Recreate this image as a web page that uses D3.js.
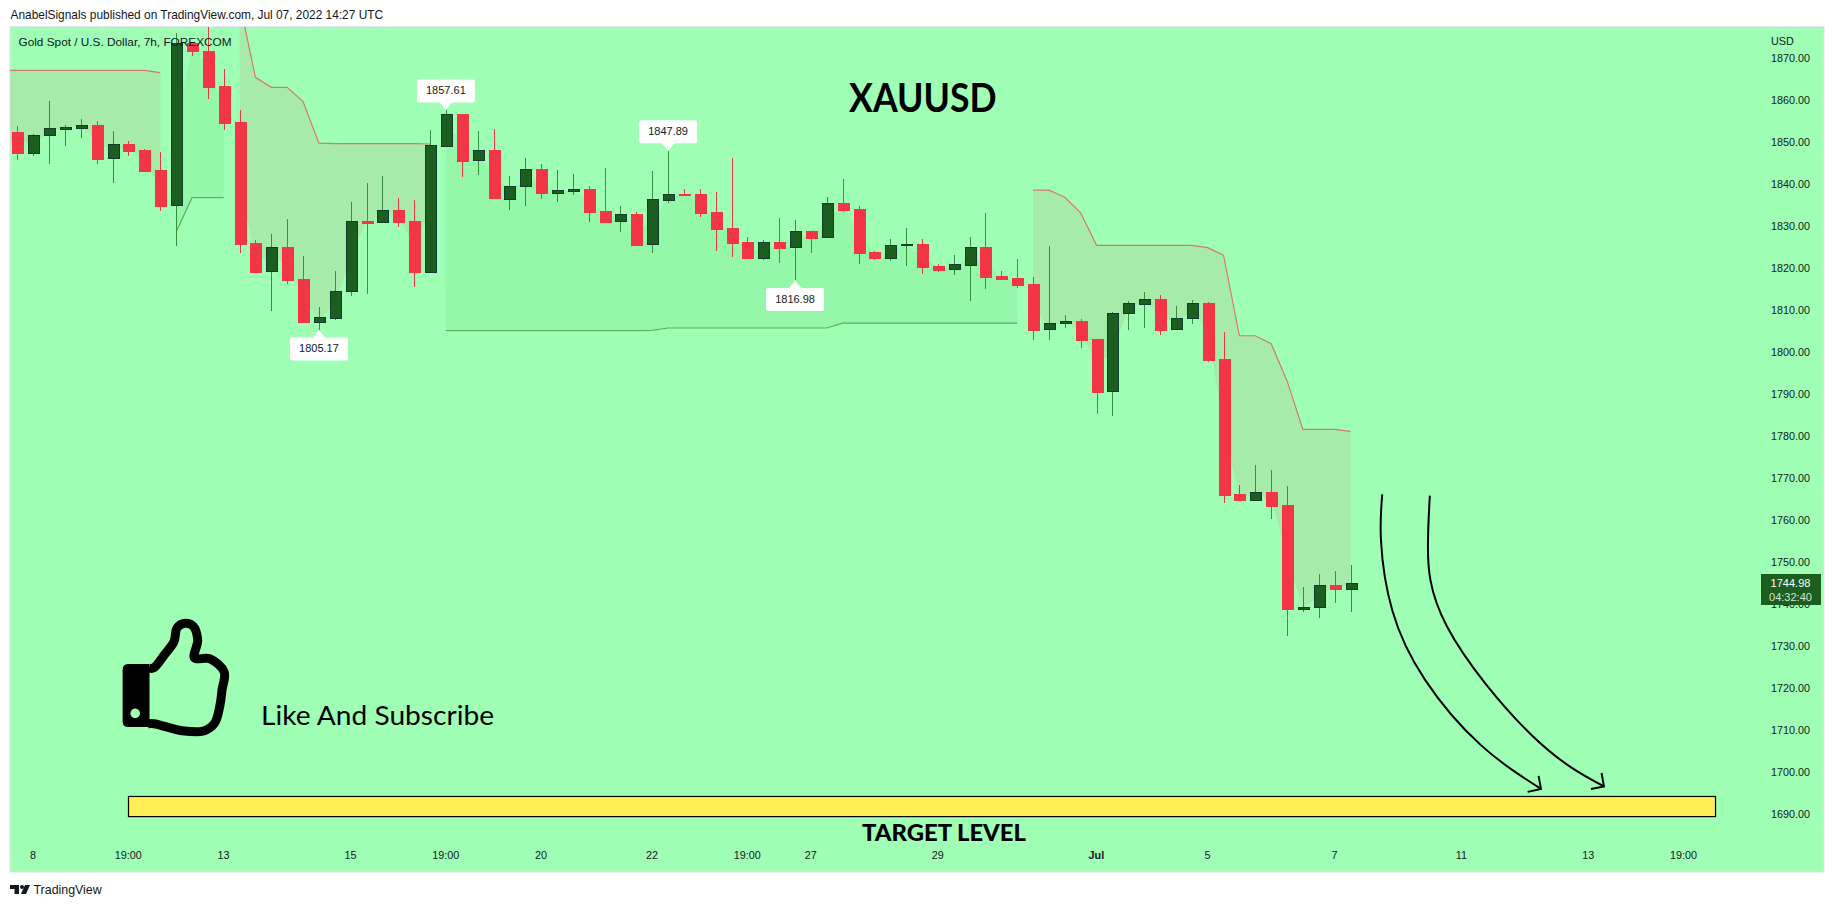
<!DOCTYPE html>
<html><head><meta charset="utf-8">
<style>html,body{margin:0;padding:0;background:#fff;overflow:hidden}svg{display:block}
text{font-family:"Liberation Sans",Arial,sans-serif;fill:#131722}</style>
<script src="https://cdn.jsdelivr.net/npm/d3@7/dist/d3.min.js"></script></head><body>
<script>
const openP=[1852.4,1847.4,1851.5,1853.2,1853.4,1854.0,1846.0,1849.5,1848.1,1843.3,1834.8,1873.5,1871.7,1863.3,1854.7,1825.9,1819.1,1825.0,1817.3,1807.1,1808.0,1814.3,1831.2,1830.8,1833.8,1831.2,1819.0,1849.0,1856.6,1845.5,1848.1,1836.6,1839.5,1843.5,1837.8,1838.3,1838.8,1833.5,1831.0,1832.8,1825.5,1836.2,1837.7,1837.6,1833.3,1829.5,1826.1,1822.4,1826.1,1824.8,1828.8,1827.2,1835.4,1834.0,1823.8,1822.4,1825.3,1825.7,1820.4,1819.6,1820.7,1825.0,1818.0,1817.6,1816.1,1805.3,1806.7,1807.3,1803.0,1790.5,1809.1,1811.4,1812.6,1805.3,1807.9,1811.6,1798.3,1766.1,1764.7,1766.6,1763.5,1738.7,1739.0,1744.4,1743.5];
const highP=[1853.8,1851.8,1859.8,1854.0,1855.5,1854.9,1852.6,1850.2,1848.2,1847.6,1875.9,1873.5,1880.0,1867.4,1857.6,1826.6,1828.1,1831.6,1822.8,1810.7,1819.2,1835.7,1840.2,1841.9,1836.6,1836.2,1852.8,1857.61,1856.6,1852.6,1853.1,1841.9,1846.2,1844.7,1843.3,1842.4,1839.5,1843.8,1834.7,1833.2,1843.1,1847.89,1838.8,1838.8,1838.1,1846.2,1827.3,1826.6,1831.9,1831.4,1828.8,1836.9,1841.2,1834.7,1824.0,1826.9,1829.5,1826.9,1820.9,1823.0,1827.3,1833.1,1819.2,1822.1,1817.8,1825.2,1808.8,1807.8,1803.0,1809.5,1812.1,1814.2,1813.5,1810.9,1812.3,1811.8,1804.7,1768.2,1773.0,1771.8,1768.0,1743.9,1747.0,1747.7,1749.2];
const lowP=[1845.7,1846.7,1844.7,1849.0,1850.9,1844.7,1840.3,1846.6,1843.1,1833.5,1825.2,1870.5,1860.2,1852.8,1823.5,1818.8,1809.7,1816.1,1807.1,1805.17,1807.6,1813.3,1813.8,1830.8,1829.7,1815.4,1819.0,1849.0,1841.6,1842.1,1836.6,1833.8,1834.7,1836.4,1835.7,1837.4,1830.9,1830.9,1828.6,1825.4,1823.6,1835.5,1837.4,1832.2,1824.0,1822.6,1822.3,1821.9,1821.1,1816.98,1823.5,1827.2,1833.3,1820.9,1821.9,1821.6,1820.4,1818.5,1819.0,1818.3,1812.1,1814.9,1817.3,1815.2,1802.8,1802.8,1805.7,1800.9,1785.2,1784.7,1805.2,1805.7,1804.0,1805.3,1806.6,1797.5,1764.0,1764.7,1764.7,1760.1,1732.2,1738.0,1736.5,1740.1,1738.0];
const closeP=[1847.4,1851.6,1853.2,1853.6,1854.0,1845.9,1849.4,1847.8,1843.1,1834.7,1873.5,1871.5,1863.1,1854.5,1825.7,1819.0,1824.9,1817.1,1807.1,1808.2,1814.4,1831.1,1830.8,1833.7,1830.9,1819.0,1849.2,1856.6,1845.5,1848.0,1836.6,1839.6,1843.5,1837.8,1838.5,1838.7,1833.3,1830.9,1832.7,1825.4,1836.3,1837.7,1837.4,1833.1,1829.2,1825.9,1822.3,1826.1,1824.7,1828.7,1827.1,1835.4,1833.8,1823.5,1822.3,1825.4,1825.6,1820.2,1819.5,1820.8,1824.9,1817.8,1817.3,1815.9,1805.2,1806.8,1807.2,1802.8,1790.4,1809.2,1811.5,1812.5,1805.2,1808.0,1811.5,1798.0,1765.8,1764.7,1766.5,1763.2,1738.7,1739.2,1744.3,1743.4,1744.98];

// trailing-stop line of the indicator, one run per trend: first bar index + values
const stopRuns=[
 {dir:"down",first:-1,values:[1867.06,1867.06,1867.06,1867.06,1867.06,1867.06,1867.06,1867.06,1867.06,1867.06,1866.5]},
 {dir:"up",first:10,values:[1828.5,1836.7,1836.7,1836.7]},
 {dir:"down",first:14,values:[1883.3,1865.4,1863.0,1863.0,1859.6,1849.7,1849.6,1849.6,1849.6,1849.6,1849.6,1849.6,1849.5]},
 {dir:"up",first:27,values:[1805.0,1805.0,1805.0,1805.0,1805.0,1805.0,1805.0,1805.0,1805.0,1805.0,1805.0,1805.0,1805.0,1805.1,1805.65,1805.65,1805.65,1805.65,1805.65,1805.65,1805.65,1805.65,1805.65,1805.65,1805.65,1806.8,1806.8,1806.8,1806.8,1806.8,1806.8,1806.8,1806.8,1806.8,1806.8,1806.8,1806.8]},
 {dir:"down",first:64,values:[1838.5,1838.5,1836.8,1833.1,1825.35,1825.35,1825.35,1825.35,1825.35,1825.35,1825.35,1824.8,1823.0,1803.8,1803.8,1801.9,1793.1,1781.5,1781.5,1781.5,1781.0]}
];
const priceTicks=d3.range(1690,1871,10);
const timeTickBars=[1,7,13,21,27,33,40,46,50,58,68,75,83,91,99,105];
const timeTickLabels=["8","19:00","13","15","19:00","20","22","19:00","27","29","Jul","5","7","11","13","19:00"];
const markedHighs=[27,41], markedLows=[19,49];
const targetBars=[7,107], targetPrices=[1694.0,1689.2];
const arrowA=[[86.0,1766.0],[85.92,1755],[86.63,1738.4],[88.7,1721.8],[92.2,1706.3],[96.0,1695.8]];
const arrowAHead=[[95.85,1698.9],[96.0,1695.8],[95.16,1695.1]];
const arrowB=[[89.0,1765.7],[88.88,1754],[90.08,1734.5],[95.42,1708.6],[99.97,1696.4]];
const arrowBHead=[[99.82,1699.6],[99.97,1696.4],[99.15,1695.8]];
const thumbOutline=[[149,668],[153.4,668],[165,654],[174,641.7],[177,628],[184,623.5],[193,626],[197.7,640],[194.5,658],[209.6,658.7],[224.2,672],[222,690],[220,705],[214.7,723],[203.6,731],[181.9,730.7],[154,723.7],[148,723.7]];

const W=1834,H=907;
const pane={l:10,t:27,r:1824,b:872};
const x=d3.scaleLinear().domain([0,84]).range([17.4,1350.5]);
const y=d3.scaleLinear().domain([1800,1700]).range([351.7,771.3]);
const UP="#1b5e20",UPB="#0f3d2e",UPW="#388e3c",DN="#f23645";

const svg=d3.select("body").append("svg").attr("width",W).attr("height",H);
svg.append("rect").attr("x",pane.l).attr("y",pane.t-.5).attr("width",pane.r-pane.l).attr("height",pane.b-pane.t+.5)
  .attr("fill","#9effb5").attr("stroke","#e0e3eb");
svg.append("defs").append("clipPath").attr("id","pane").append("rect")
  .attr("x",pane.l).attr("y",pane.t).attr("width",pane.r-pane.l).attr("height",pane.b-pane.t);

// axes
const yAxis=d3.axisRight(y).tickValues(priceTicks).tickSize(0).tickPadding(0).tickFormat(d3.format(".2f"));
const ya=svg.append("g").attr("transform","translate(1771,0.4)").call(yAxis);
ya.select(".domain").remove();
ya.selectAll("text").style("font-size","10.8px").style("fill","#131722");
const xAxis=d3.axisBottom(x).tickValues(timeTickBars).tickSize(0).tickPadding(0).tickFormat((d,i)=>timeTickLabels[i]);
const xa=svg.append("g").attr("transform","translate(-0.7,851)").call(xAxis);
xa.select(".domain").remove();
xa.selectAll("text").style("font-size","10.8px").style("fill","#131722")
  .style("font-weight",(d,i)=>timeTickLabels[i]==="Jul"?700:400);

const g=svg.append("g").attr("clip-path","url(#pane)");
// indicator fills and lines
const mid=i=>(openP[Math.max(i,0)]+closeP[Math.max(i,0)])/2;
stopRuns.forEach(r=>{
  const col=r.dir==="up"?"#4caf50":"#f23645";
  const pts=r.values.map((v,k)=>({i:r.first+k,v}));
  g.append("path").attr("fill",col).attr("opacity",.1)
    .attr("d",d3.area().x(p=>x(Math.max(p.i,-0.46))).y0(p=>y(p.v)).y1(p=>y(mid(p.i)))(pts));
  g.append("path").attr("fill","none").attr("stroke",col).attr("stroke-opacity",r.dir==="up"?.9:.65).attr("stroke-width",1.2)
    .attr("d",d3.line().x(p=>x(p.i)).y(p=>y(p.v))(pts));
});
// candles
const bw=11;
const idx=d3.range(openP.length);
g.append("g").attr("shape-rendering","crispEdges").selectAll("line").data(idx).join("line")
  .attr("x1",i=>Math.round(x(i))+.5).attr("x2",i=>Math.round(x(i))+.5)
  .attr("y1",i=>y(highP[i])).attr("y2",i=>y(lowP[i]))
  .attr("stroke",i=>closeP[i]>=openP[i]?UPW:DN).attr("stroke-width",1);
g.append("g").attr("shape-rendering","crispEdges").selectAll("rect").data(idx).join("rect")
  .attr("x",i=>Math.round(x(i))-5).attr("width",bw)
  .attr("y",i=>Math.round(y(Math.max(openP[i],closeP[i]))))
  .attr("height",i=>Math.max(1,Math.round(y(Math.min(openP[i],closeP[i]))-y(Math.max(openP[i],closeP[i])))))
  .attr("fill",i=>closeP[i]>=openP[i]?UP:DN)
  .attr("stroke",i=>closeP[i]>=openP[i]?UPB:DN).attr("stroke-width",1);

// target box
svg.append("rect").attr("x",x(targetBars[0])).attr("width",x(targetBars[1])-x(targetBars[0]))
  .attr("y",y(targetPrices[0])).attr("height",y(targetPrices[1])-y(targetPrices[0]))
  .attr("fill","#ffee58").attr("stroke","#000").attr("stroke-width",1.2);

// arrows
const curve=d3.line().x(d=>x(d[0])).y(d=>y(d[1])).curve(d3.curveNatural);
const poly=d3.line().x(d=>x(d[0])).y(d=>y(d[1]));
[arrowA,arrowB].forEach(a=>svg.append("path").attr("fill","none").attr("stroke","#000").attr("stroke-width",2).attr("d",curve(a)));
[arrowAHead,arrowBHead].forEach(a=>svg.append("path").attr("fill","none").attr("stroke","#000").attr("stroke-width",2).attr("d",poly(a)));

// high / low flags
function flag(i,price,isHigh){
  const cx=x(i),tip=y(price),dir=isHigh?-1:1;
  const gg=svg.append("g");
  const h=23,w=58,off=7.5;
  const y0=isHigh?tip-off-h:tip+off;
  gg.append("path").attr("fill","#fff").attr("d",`M${cx},${tip}L${cx-7},${tip+dir*(off+1)}L${cx+7},${tip+dir*(off+1)}Z`);
  gg.append("rect").attr("x",cx-w/2).attr("y",y0).attr("width",w).attr("height",h).attr("rx",2).attr("fill","#fff");
  gg.append("text").attr("x",cx).attr("y",y0+h/2+.5).attr("text-anchor","middle").attr("dominant-baseline","middle")
    .style("font-size","11px").text(d3.format(".2f")(price));
}
markedHighs.forEach(i=>flag(i,highP[i],true));
markedLows.forEach(i=>flag(i,lowP[i],false));

// price badge
svg.append("rect").attr("x",1761).attr("y",574).attr("width",60).attr("height",31).attr("fill",UP);
svg.append("text").attr("x",1790.5).attr("y",586.5).attr("text-anchor","middle").style("font-size","11px").style("fill","#fff").text(d3.format(".2f")(closeP[84]));
svg.append("text").attr("x",1790.5).attr("y",600.5).attr("text-anchor","middle").style("font-size","11px").style("fill","#d5e3d6").text("04:32:40");

// texts
svg.append("text").attr("x",1771).attr("y",44.5).style("font-size","10.8px").text("USD");
svg.append("text").attr("x",10.5).attr("y",19).style("font-size","11.9px").text("AnabelSignals published on TradingView.com, Jul 07, 2022 14:27 UTC");
svg.append("text").attr("x",18.5).attr("y",45.5).style("font-size","11.8px").text("Gold Spot / U.S. Dollar, 7h, FOREXCOM");
svg.append("text").attr("x",849).attr("y",111.5).attr("textLength",147.6).attr("lengthAdjust","spacingAndGlyphs").style("font-family","Lato").style("font-weight",700).style("font-size","39.5px").style("fill","#000").text("XAUUSD");
svg.append("text").attr("x",261).attr("y",725).attr("textLength",233).attr("lengthAdjust","spacingAndGlyphs").style("font-family","Lato").style("font-size","27.5px").style("fill","#000").text("Like And Subscribe");
svg.append("text").attr("x",862).attr("y",841).attr("textLength",164).attr("lengthAdjust","spacingAndGlyphs").style("font-family","Lato").style("font-weight",900).style("font-size","23.5px").style("fill","#000").text("TARGET LEVEL");

// thumbs-up icon
const thumb=svg.append("g");
thumb.append("path").attr("fill","none").attr("stroke","#000").attr("stroke-width",9).attr("stroke-linejoin","round")
 .attr("d",d3.line().curve(d3.curveCatmullRom.alpha(.5))(thumbOutline));
thumb.append("path").attr("fill","#000").attr("fill-rule","evenodd")
 .attr("d","M128,664H149.5V727H128Q122.6,727 122.6,721V670Q122.6,664 128,664ZM135.2,708.5a4.8,4.8 0 1,0 .01,0Z");

// footer
const logo=svg.append("g").attr("fill","#131722");
logo.append("path").attr("d","M10,885H19V894H14.5V889H10Z");
logo.append("circle").attr("cx",22).attr("cy",887).attr("r",2);
logo.append("path").attr("d","M25,885H30L26,894H21Z");
svg.append("text").attr("x",33.5).attr("y",894).style("font-size","12.4px").text("TradingView");
</script></body></html>
